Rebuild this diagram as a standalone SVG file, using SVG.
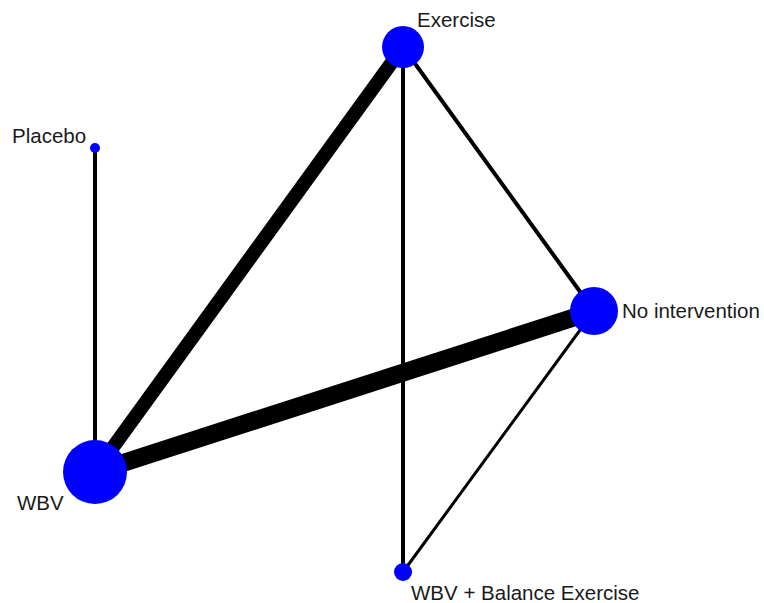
<svg xmlns="http://www.w3.org/2000/svg" width="764" height="603" viewBox="0 0 764 603">
<style>
.e{stroke:#000;stroke-linecap:butt;fill:none}
.n{fill:#0000ff}
.t{font-family:"Liberation Sans",Arial,sans-serif;font-size:20.5px;fill:#1a1a1a}
</style>
<rect width="764" height="603" fill="#fff"/>
<g id="connectors">
<line class="e" x1="95" y1="148" x2="95" y2="472" stroke-width="4"/>
<line class="e" x1="403" y1="47" x2="95" y2="472" stroke-width="14"/>
<line class="e" x1="594" y1="311" x2="95" y2="472" stroke-width="18"/>
<line class="e" x1="403" y1="47" x2="594" y2="311" stroke-width="4"/>
<line class="e" x1="403" y1="47" x2="403" y2="572" stroke-width="4"/>
<line class="e" x1="594" y1="311" x2="403" y2="572" stroke-width="3"/>
</g>
<g id="exercise"><circle class="n" cx="403" cy="47" r="21"/><text class="t" x="417" y="27">Exercise</text></g>
<g id="placebo"><circle class="n" cx="95" cy="148" r="5"/><text class="t" x="12" y="143">Placebo</text></g>
<g id="no-intervention"><circle class="n" cx="594" cy="311" r="24"/><text class="t" x="622" y="318">No intervention</text></g>
<g id="wbv"><circle class="n" cx="95" cy="472" r="32"/><text class="t" x="17" y="510">WBV</text></g>
<g id="wbv-balance"><circle class="n" cx="403" cy="572" r="9"/><text class="t" x="411" y="600">WBV + Balance Exercise</text></g>
</svg>
